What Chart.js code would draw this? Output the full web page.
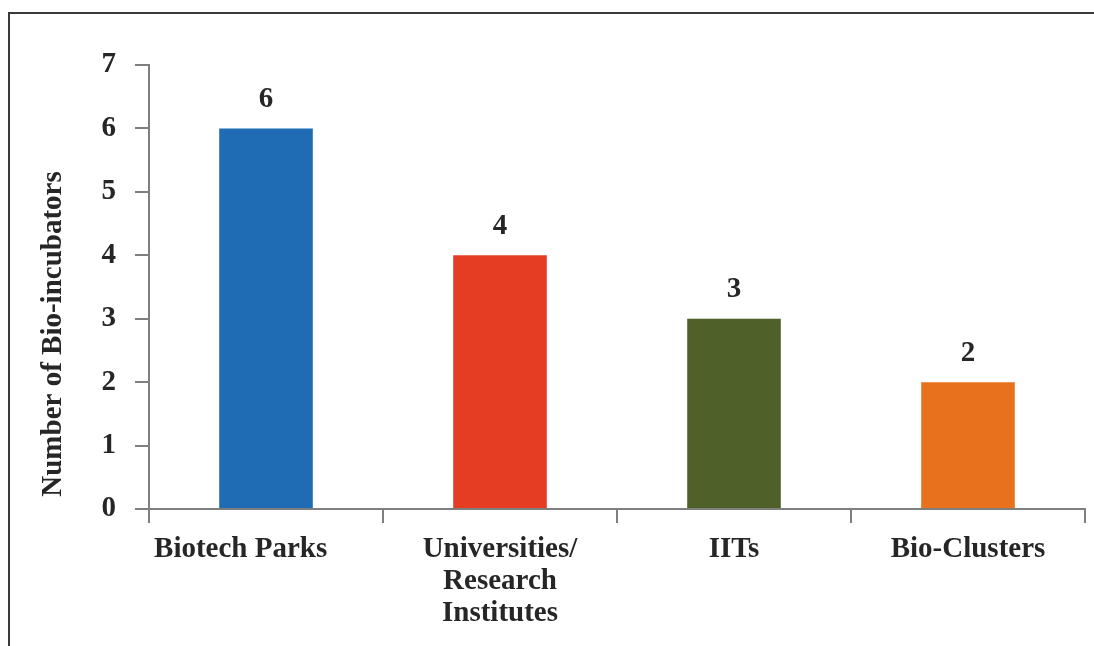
<!DOCTYPE html>
<html>
<head>
<meta charset="utf-8">
<title>Bio-incubators</title>
<script src="https://cdn.jsdelivr.net/npm/chart.js"></script>
<style>
body { margin: 0; background: #fff; }
#wrap { position: relative; width: 1094px; height: 646px; }
#frame {
	position: absolute; left: 8px; top: 12px; right: -4px; bottom: -4px;
	border-left: 2px solid #3a3a3a; border-top: 2px solid #3a3a3a;
}
canvas { position: absolute; left: 0; top: 0; }
</style>
</head>
<body>
<div id="wrap">
	<div id="frame"></div>
	<canvas id="chart" width="1094" height="646"></canvas>
</div>
<script>
const categories = ["Biotech Parks       ", ["Universities/", "Research", "Institutes"], "IITs", "Bio-Clusters"];
const counts = [6, 4, 3, 2];
const barColors = ["#1f6cb4", "#e53c24", "#4f6128", "#e8711e"];
const yTicks = [0, 1, 2, 3, 4, 5, 6, 7];
const yTitle = "Number of Bio-incubators";

const serif = "'Liberation Serif', 'Times New Roman', serif";
const axisGray = "#7f7f7f";
const textColor = "#262626";

// value labels above each bar, plus the rotated axis title (sits low, as in print)
const extraText = {
	id: "extraText",
	afterDatasetsDraw(chart) {
		const ctx = chart.ctx;
		const meta = chart.getDatasetMeta(0);
		ctx.save();
		ctx.font = "bold 29px " + serif;
		ctx.fillStyle = textColor;
		ctx.textAlign = "center";
		ctx.textBaseline = "middle";
		meta.data.forEach((bar, i) => {
			ctx.fillText(String(counts[i]), bar.x, bar.y - 29);
		});
		const area = chart.chartArea;
		ctx.translate(54, (area.top + area.bottom) / 2 + 47);
		ctx.rotate(-Math.PI / 2);
		ctx.fillText(yTitle, 0, 0);
		ctx.restore();
	}
};

new Chart("chart", {
	type: "bar",
	data: {
		labels: categories,
		datasets: [{
			data: counts,
			backgroundColor: barColors,
			categoryPercentage: 0.4,
			barPercentage: 1.0
		}]
	},
	options: {
		responsive: false,
		animation: false,
		layout: { padding: { top: 65, right: 9, bottom: 0, left: 0 } },
		plugins: {
			legend: { display: false },
			tooltip: { enabled: false }
		},
		scales: {
			x: {
				grid: {
					offset: true,
					drawOnChartArea: false,
					tickLength: 14,
					color: axisGray,
					lineWidth: 2
				},
				border: { display: true, color: axisGray, width: 2 },
				ticks: {
					color: textColor,
					padding: 11,
					maxRotation: 0,
					autoSkip: false,
					font: { family: serif, size: 29, weight: "bold", lineHeight: 1.1 }
				},
				afterFit(scale) { scale.height = 137; }
			},
			y: {
				min: 0,
				max: 7,
				afterBuildTicks(scale) { scale.ticks = yTicks.map(v => ({ value: v })); },
				grid: {
					drawOnChartArea: false,
					tickLength: 14,
					color: axisGray,
					lineWidth: 2
				},
				border: { display: true, color: axisGray, width: 2 },
				ticks: {
					color: textColor,
					padding: 19,
					font: { family: serif, size: 29, weight: "bold" }
				},
				afterFit(scale) { scale.width = 149; }
			}
		}
	},
	plugins: [extraText]
});
</script>
</body>
</html>
